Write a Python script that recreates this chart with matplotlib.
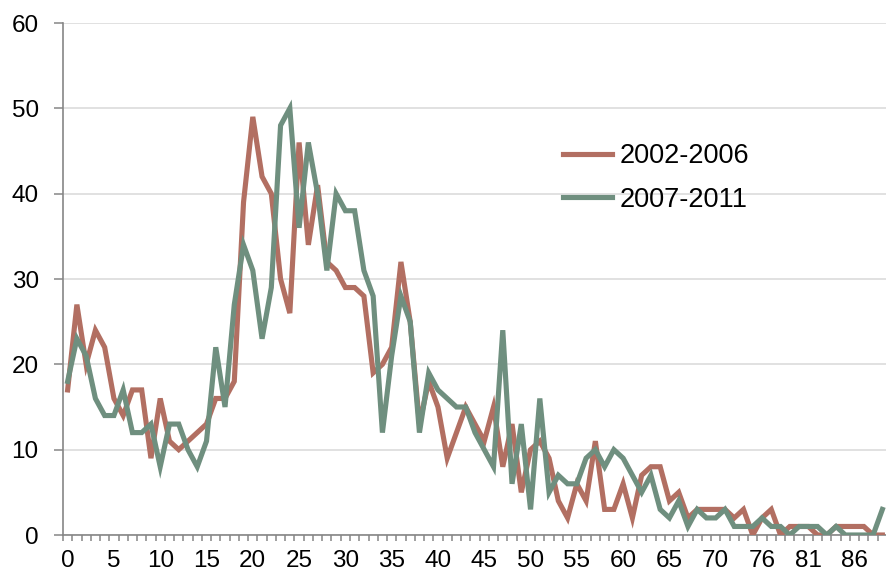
import matplotlib
matplotlib.use("Agg")
import matplotlib.pyplot as plt
from matplotlib.ticker import FixedLocator

plt.rcParams["font.family"] = ["Liberation Sans", "DejaVu Sans"]

# age categories (71 is absent from the source table)
ages = list(range(0, 71)) + list(range(72, 90))

counts_2002_2006 = [
    17, 27, 20, 24, 22, 16, 14, 17, 17, 9,
    16, 11, 10, 11, 12, 13, 16, 16, 18, 39,
    49, 42, 40, 30, 26, 46, 34, 41, 32, 31,
    29, 29, 28, 19, 20, 22, 32, 25, 13, 18,
    15, 9, 12, 15, 13, 11, 15, 8, 13, 5,
    10, 11, 9, 4, 2, 6, 4, 11, 3, 3,
    6, 2, 7, 8, 8, 4, 5, 2, 3, 3,
    3, 3, 2, 3, 0, 2, 3, 0, 1, 1,
    1, 0, 0, 1, 1, 1, 1, 0, 0,
]
counts_2007_2011 = [
    18, 23, 21, 16, 14, 14, 17, 12, 12, 13,
    8, 13, 13, 10, 8, 11, 22, 15, 27, 34,
    31, 23, 29, 48, 50, 36, 46, 40, 31, 40,
    38, 38, 31, 28, 12, 21, 28, 25, 12, 19,
    17, 16, 15, 15, 12, 10, 8, 24, 6, 13,
    3, 16, 5, 7, 6, 6, 9, 10, 8, 10,
    9, 7, 5, 7, 3, 2, 4, 1, 3, 2,
    2, 3, 1, 1, 1, 2, 1, 1, 0, 1,
    1, 1, 0, 1, 0, 0, 0, 0, 3,
]
series_labels = ["2002-2006", "2007-2011"]
series_colors = ["#B26F62", "#6F8F7F"]
y_ticks = [0, 10, 20, 30, 40, 50, 60]

W, H = 887, 576
fig = plt.figure(figsize=(W / 100, H / 100), dpi=100)
ax = fig.add_axes([63 / W, 41 / H, 824 / W, 512 / H])

x = list(range(len(ages)))
for vals, lab, col in zip([counts_2002_2006, counts_2007_2011], series_labels, series_colors):
    ax.plot(x, vals, color=col, lw=3.7, label=lab, solid_joinstyle="miter", zorder=3)

ax.set_xlim(-0.5, 87.7)
ax.set_ylim(0, 60)

axis_gray = "#868686"
for side in ["top", "right"]:
    ax.spines[side].set_visible(False)
for side in ["left", "bottom"]:
    ax.spines[side].set_color(axis_gray)
    ax.spines[side].set_linewidth(1.2)

ax.yaxis.set_major_locator(FixedLocator(y_ticks))
ax.grid(axis="y", color="#d9d9d9", lw=1.1, zorder=0)
ax.set_axisbelow(True)
ax.tick_params(axis="y", length=6.5, width=1.1, color=axis_gray, pad=11, labelsize=17.5)

label_pos = list(range(0, len(ages), 5))
ax.set_xticks(label_pos)
ax.set_xticklabels([str(ages[i]) for i in label_pos])
ax.set_xticks([i - 0.5 for i in range(len(ages) + 1)], minor=True)
ax.tick_params(axis="x", which="major", length=0, pad=11, labelsize=17.5)
ax.tick_params(axis="x", which="minor", length=4.5, width=1.1, color=axis_gray)

ax.legend(loc="upper left", bbox_to_anchor=(563 / W, 1 - 143 / H),
          bbox_transform=fig.transFigure, frameon=False, borderpad=0,
          borderaxespad=0, handlelength=1.8, handletextpad=0.3,
          labelspacing=0.65, fontsize=19.5)

fig.savefig("out.png", dpi=100)
